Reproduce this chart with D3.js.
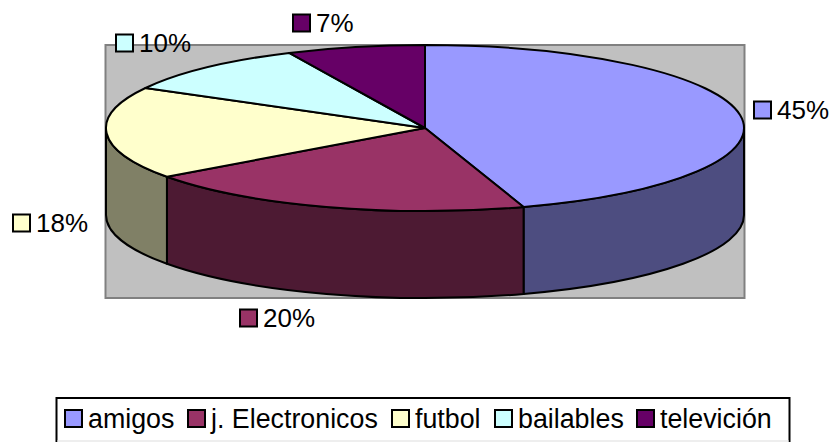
<!DOCTYPE html>
<html>
<head>
<meta charset="utf-8">
<style>
  html, body { margin: 0; padding: 0; background: #fff; }
  svg { display: block; }
  text { font-family: "Liberation Sans", Arial, sans-serif; fill: #000; }
</style>
</head>
<body>
<script src="https://cdn.jsdelivr.net/npm/d3@7"></script>
<script>
  // chart data
  var categories = ["amigos", "j. Electronicos", "futbol", "bailables", "televición"];
  var values = [45, 20, 18, 10, 7];
  var topColors = ["#9999FF", "#993366", "#FFFFCC", "#CCFFFF", "#660066"];
  var sideColors = ["#4D4D80", "#4D1A33", "#808066", "#668080", "#330033"];

  var width = 833, height = 442;
  var cx = 425, cy = 128, rx = 319, ry = 83, depth = 87;
  var labelFont = 26, legendFont = 26.8;

  var svg = d3.select("body").append("svg")
      .attr("width", width)
      .attr("height", height);

  // grey plot background
  svg.append("rect")
      .attr("x", 105.5).attr("y", 45)
      .attr("width", 639).attr("height", 253)
      .attr("fill", "#C0C0C0")
      .attr("stroke", "#808080")
      .attr("stroke-width", 2);

  // start at 12 o'clock, keep the order of the data
  var pie = d3.pie().sort(null).value(function(d) { return d; });
  var slices = pie(values);

  function px(a) { return cx + rx * Math.sin(a); }
  function py(a) { return cy - ry * Math.cos(a); }
  function arcTo(a0, a1, dy, sweep) {
    var large = Math.abs(a1 - a0) > Math.PI ? 1 : 0;
    return "A" + rx + "," + ry + " 0 " + large + "," + sweep + " " + px(a1) + "," + (py(a1) + dy);
  }

  // side walls: only the part of each slice on the front half of the ellipse
  var frontStart = Math.PI / 2, frontEnd = Math.PI * 1.5;
  slices.forEach(function(s, i) {
    var a0 = Math.max(s.startAngle, frontStart), a1 = Math.min(s.endAngle, frontEnd);
    if (a1 <= a0) return;
    var d = "M" + px(a0) + "," + py(a0) + arcTo(a0, a1, 0, 1) +
            "L" + px(a1) + "," + (py(a1) + depth) + arcTo(a1, a0, depth, 0) + "Z";
    svg.append("path")
        .attr("d", d)
        .attr("fill", sideColors[i])
        .attr("stroke", "#000")
        .attr("stroke-width", 2)
        .attr("stroke-linejoin", "round");
  });

  // top face
  slices.forEach(function(s, i) {
    var d = "M" + cx + "," + cy + "L" + px(s.startAngle) + "," + py(s.startAngle) +
            arcTo(s.startAngle, s.endAngle, 0, 1) + "Z";
    svg.append("path")
        .attr("d", d)
        .attr("fill", topColors[i])
        .attr("stroke", "#000")
        .attr("stroke-width", 2)
        .attr("stroke-linejoin", "round");
  });

  // data labels with their colour key
  var labelX = [754, 240, 13, 116, 293];
  var labelY = [110, 318, 223, 43, 23];
  values.forEach(function(v, i) {
    svg.append("rect")
        .attr("x", labelX[i]).attr("y", labelY[i] - 8.5)
        .attr("width", 17).attr("height", 17)
        .attr("fill", topColors[i])
        .attr("stroke", "#000")
        .attr("stroke-width", 2);
    svg.append("text")
        .attr("x", labelX[i] + 23).attr("y", labelY[i])
        .attr("dy", "0.35em")
        .style("font-size", labelFont + "px")
        .text(v + "%");
  });

  // legend box
  svg.append("rect")
      .attr("x", 56.5).attr("y", 398)
      .attr("width", 733).attr("height", 60)
      .attr("fill", "#fff")
      .attr("stroke", "#000")
      .attr("stroke-width", 2);
  svg.append("line")
      .attr("x1", 57).attr("x2", 789)
      .attr("y1", 441).attr("y2", 441)
      .attr("stroke", "#ddd")
      .attr("stroke-width", 1);

  var legendX = [65, 188, 392, 495, 637];
  categories.forEach(function(c, i) {
    svg.append("rect")
        .attr("x", legendX[i]).attr("y", 410)
        .attr("width", 17).attr("height", 17)
        .attr("fill", topColors[i])
        .attr("stroke", "#000")
        .attr("stroke-width", 2);
    svg.append("text")
        .attr("x", legendX[i] + 23).attr("y", 418.5)
        .attr("dy", "0.35em")
        .style("font-size", legendFont + "px")
        .text(c);
  });
</script>
</body>
</html>
